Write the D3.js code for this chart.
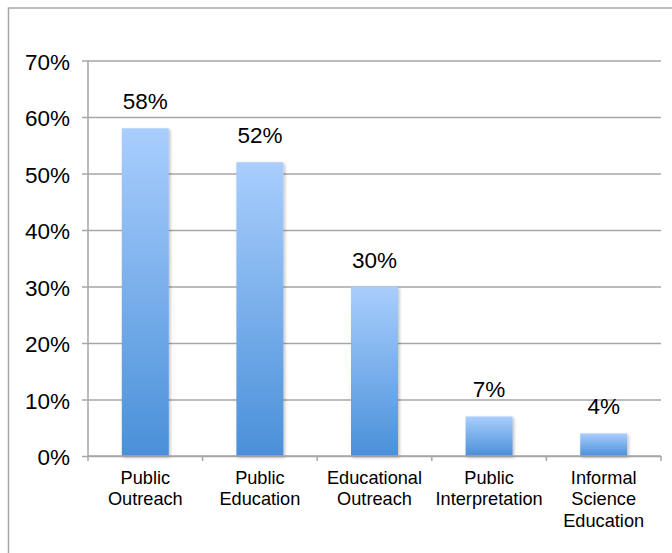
<!DOCTYPE html>
<html>
<head>
<meta charset="utf-8">
<script src="https://cdn.jsdelivr.net/npm/d3@7"></script>
<style>
  html, body { margin: 0; padding: 0; background: #fff; }
  svg { display: block; font-family: "Liberation Sans", Arial, Helvetica, sans-serif; }
</style>
</head>
<body>
<svg id="chart" width="672" height="553"></svg>
<script>
// Share of respondents using each term
const categories = [
  ["Public", "Outreach"],
  ["Public", "Education"],
  ["Educational", "Outreach"],
  ["Public", "Interpretation"],
  ["Informal", "Science", "Education"]
];
const values = [58, 52, 30, 7, 4];
const yTicks = [0, 10, 20, 30, 40, 50, 60, 70];

const svg = d3.select("#chart");
const W = 672, H = 553;
const margin = { left: 88, right: 11, top: 60.5, bottom: 97 };
const gridColor = "#a6a6a6";

// Outer frame (open at right and bottom edges)
svg.append("rect")
  .attr("x", 8.5).attr("y", 8)
  .attr("width", W + 10).attr("height", H + 10)
  .attr("fill", "none")
  .attr("stroke", gridColor)
  .attr("stroke-width", 1.5);

const x = d3.scaleBand()
  .domain(d3.range(categories.length))
  .range([margin.left, W - margin.right])
  .paddingInner(0.59)
  .paddingOuter(0.295);

const y = d3.scaleLinear()
  .domain([0, 70])
  .range([H - margin.bottom, margin.top]);

const defs = svg.append("defs");
const grad = defs.append("linearGradient")
  .attr("id", "barFill")
  .attr("x1", 0).attr("y1", 0).attr("x2", 0).attr("y2", 1);
grad.append("stop").attr("offset", "0%").attr("stop-color", "#a9cefd");
grad.append("stop").attr("offset", "100%").attr("stop-color", "#4a90d9");

const shadow = defs.append("filter")
  .attr("id", "barShadow")
  .attr("x", "-20%").attr("y", "-10%").attr("width", "140%").attr("height", "120%");
shadow.append("feDropShadow")
  .attr("dx", 1.5).attr("dy", 1.5)
  .attr("stdDeviation", 1.5)
  .attr("flood-color", "#000")
  .attr("flood-opacity", 0.25);

// Horizontal gridlines with left ticks
const yAxis = d3.axisLeft(y)
  .tickValues(yTicks)
  .tickSize(-(W - margin.left - margin.right))
  .tickFormat(d => d + "%");

const gy = svg.append("g")
  .attr("transform", `translate(${margin.left},0)`)
  .call(yAxis);
gy.select(".domain").remove();
gy.selectAll(".tick line")
  .attr("x1", -6)
  .attr("stroke", gridColor)
  .attr("stroke-width", 1.5);
gy.selectAll(".tick text")
  .attr("x", -18)
  .attr("dy", null)
  .attr("y", 8.5)
  .attr("fill", "#000")
  .attr("font-size", 22.5)
  .attr("font-family", "Liberation Sans, Arial, sans-serif");

// Vertical axis line
svg.append("line")
  .attr("x1", margin.left).attr("x2", margin.left)
  .attr("y1", y(70)).attr("y2", y(0))
  .attr("stroke", gridColor)
  .attr("stroke-width", 1.5);

// Bars
svg.append("g")
  .selectAll("rect")
  .data(values)
  .join("rect")
  .attr("x", (d, i) => x(i))
  .attr("width", x.bandwidth())
  .attr("y", d => y(d))
  .attr("height", d => y(0) - y(d))
  .attr("fill", "url(#barFill)")
  .attr("filter", "url(#barShadow)");

// Baseline with category boundary ticks
const step = x.step();
const bounds = d3.range(categories.length + 1).map(i => margin.left + i * step);
const gx = svg.append("g");
gx.append("line")
  .attr("x1", margin.left).attr("x2", W - margin.right)
  .attr("y1", y(0)).attr("y2", y(0))
  .attr("stroke", gridColor)
  .attr("stroke-width", 1.5);
gx.selectAll("line.tick")
  .data(bounds)
  .join("line")
  .attr("class", "tick")
  .attr("x1", d => d).attr("x2", d => d)
  .attr("y1", y(0)).attr("y2", y(0) + 5)
  .attr("stroke", gridColor)
  .attr("stroke-width", 1.5);

// Category labels
const labels = svg.append("g")
  .selectAll("text")
  .data(categories)
  .join("text")
  .attr("text-anchor", "middle")
  .attr("font-size", 18.2)
  .attr("fill", "#000");
labels.each(function(lines, i) {
  const t = d3.select(this);
  lines.forEach((ln, k) => {
    t.append("tspan")
      .attr("x", x(i) + x.bandwidth() / 2)
      .attr("y", 484 + k * 21.3)
      .text(ln);
  });
});

// Value labels
svg.append("g")
  .selectAll("text")
  .data(values)
  .join("text")
  .attr("x", (d, i) => x(i) + x.bandwidth() / 2)
  .attr("y", d => y(d) - 19)
  .attr("text-anchor", "middle")
  .attr("font-size", 22.5)
  .attr("fill", "#000")
  .text(d => d + "%");
</script>
</body>
</html>
